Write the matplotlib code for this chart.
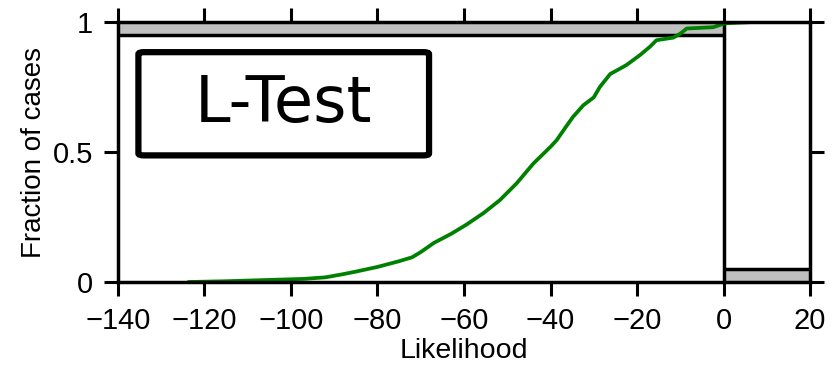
import matplotlib
matplotlib.use('Agg')
import matplotlib.pyplot as plt
from matplotlib.patches import FancyBboxPatch

# Cumulative fraction of simulated catalogues vs. log-likelihood
likelihood = [-123.5, -115, -105, -97, -92, -88, -85, -80, -75, -72, -70, -67,
              -63, -59.5, -55.5, -51.7, -47.8, -44, -40, -38.6, -36.3, -34.8,
              -32.4, -30, -28.6, -26.2, -24, -22.4, -19.3, -17, -15.5, -11.6,
              -10, -8.5, -2.4, 0.3, 7]
fraction = [0.0, 0.003, 0.008, 0.012, 0.018, 0.03, 0.04, 0.058, 0.08, 0.095,
            0.115, 0.15, 0.185, 0.22, 0.265, 0.315, 0.38, 0.455, 0.52, 0.545,
            0.60, 0.635, 0.68, 0.71, 0.75, 0.80, 0.82, 0.835, 0.873, 0.905,
            0.93, 0.94, 0.955, 0.975, 0.98, 0.995, 1.0]

observed = 0
x_range = (-140, 20)
x_ticks = [-140, -120, -100, -80, -60, -40, -20, 0, 20]
y_ticks = [0, 0.5, 1]
alpha = 0.05

plt.rcParams['font.family'] = ['Liberation Sans', 'DejaVu Sans']

fig = plt.figure(figsize=(8.38, 3.65), dpi=100)
ax = fig.add_axes([0.1408, 0.2274, 0.8258, 0.7123])

# rejection regions (grey bands)
ax.fill_between([x_range[0], observed], 1 - alpha, 1, facecolor='#c0c0c0',
                edgecolor='none', zorder=1)
ax.plot([x_range[0], observed], [1 - alpha, 1 - alpha], color='black', lw=2.5,
        solid_capstyle='butt', zorder=1.5)
ax.fill_between([observed, x_range[1]], 0, alpha, facecolor='#c0c0c0',
                edgecolor='none', zorder=1)
ax.plot([observed, x_range[1]], [alpha, alpha], color='black', lw=2.5,
        solid_capstyle='butt', zorder=1.5)

# observed likelihood
ax.plot([observed, observed], [0, 1], color='black', lw=2.5, zorder=1.5)

ax.plot(likelihood, fraction, color='#008000', lw=2.7, zorder=2)

ax.set_xlim(*x_range)
ax.set_ylim(0, 1)
ax.set_xticks(x_ticks)
ax.set_yticks(y_ticks)
ax.set_yticklabels(['0', '0.5', '1'])
for s in ax.spines.values():
    s.set_linewidth(2.5)
    s.set_zorder(3)
ax.tick_params(direction='out', length=10, width=2.2, labelsize=21, pad=8,
               top=True, right=True)

ax.set_xlabel('Likelihood', fontsize=20.5, labelpad=2)
ax.set_ylabel('Fraction of cases', fontsize=20, labelpad=4)

# test name box
box = FancyBboxPatch((0.0295, 0.487), 0.42, 0.397, boxstyle='round,pad=0,rounding_size=0.008',
                     transform=ax.transAxes, facecolor='white', edgecolor='black',
                     lw=4.5, zorder=4)
ax.add_patch(box)
ax.text(0.2395, 0.686, 'L-Test', transform=ax.transAxes, fontsize=46,
        family='DejaVu Sans', ha='center', va='center', zorder=5)

fig.savefig('out.png', dpi=100)
